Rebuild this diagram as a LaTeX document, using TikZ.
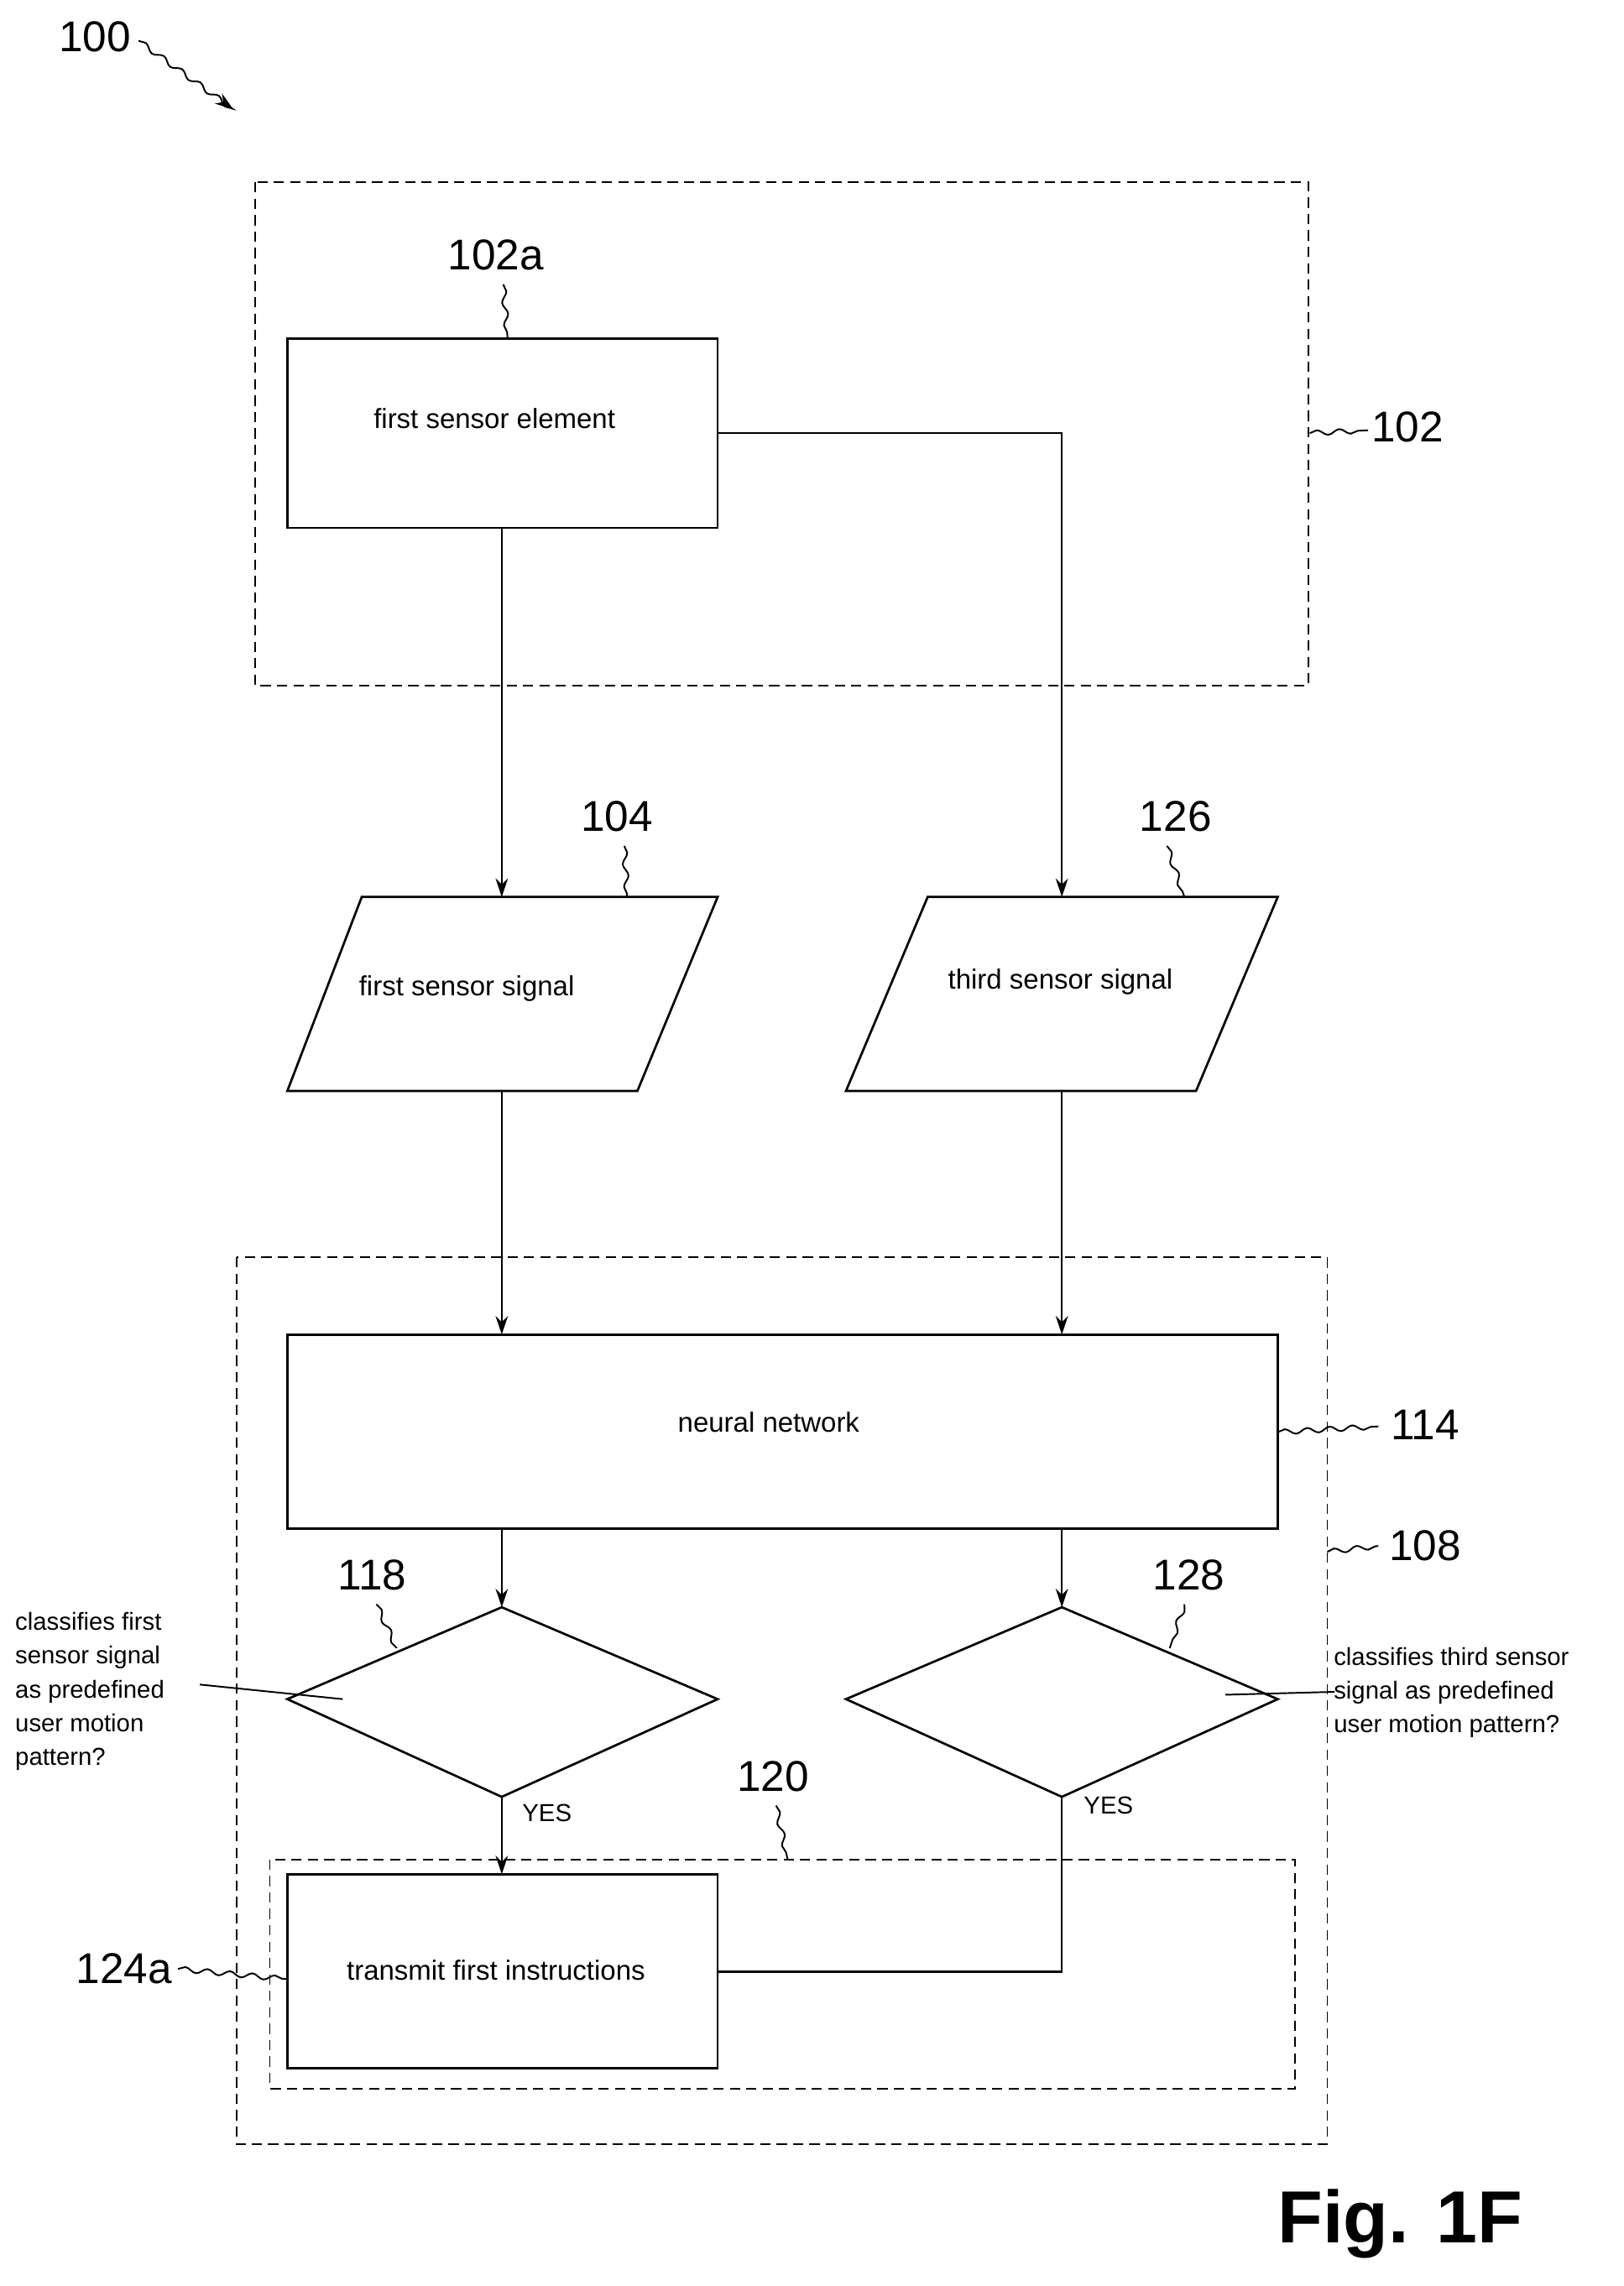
\documentclass[tikz,border=0pt]{standalone}
\usepackage{fontspec}
\setmainfont{Liberation Sans}
\usetikzlibrary{arrows.meta,decorations.pathmorphing}
\begin{document}
\begin{tikzpicture}[x=0.05cm,y=-0.05cm,
 box/.style={draw,line width=2.2pt},
 dbox/.style={draw,line width=1.6pt,dash pattern=on 10pt off 6pt},
 conn/.style={draw,line width=2pt},
 arr/.style={conn,-{Stealth[length=18pt,width=12pt]}},
 lbl/.style={font=\fontsize{42}{46}\selectfont},
 txt/.style={font=\fontsize{27}{32}\selectfont},
 sq/.style={draw,line width=1.6pt,decorate,decoration={snake,amplitude=2.5pt,segment length=22pt}}]
\useasboundingbox (0,0) rectangle (1113.4,1567.4);
% boxes
\draw[dbox] (175,125) rectangle (897,470);
\draw[dbox] (162,862) rectangle (910,1470);
\draw[dbox] (185,1275) rectangle (888,1432);
\draw[box] (197,232) rectangle (492,362);
\node[txt] (fse) at (339,287) {first sensor element};
\draw[box] (248,615) -- (492,615) -- (437,748) -- (197,748) -- cycle;
\node[txt] (fss) at (320,678) {first sensor signal};
\draw[box] (636,615) -- (876,615) -- (820,748) -- (580,748) -- cycle;
\node[txt] (tss) at (727,673) {third sensor signal};
\draw[box] (197,915) rectangle (876,1048);
\node[txt] (nn) at (527,975) {neural network};
\draw[box] (344,1102) -- (492,1165) -- (344,1232) -- (197,1165) -- cycle;
\draw[box] (728,1102) -- (876,1165) -- (728,1232) -- (580,1165) -- cycle;
\draw[box] (197,1285) rectangle (492,1418);
\node[txt] (tfi) at (340,1351) {transmit first instructions};
% coordinates
\coordinate (a1) at (344,362); \coordinate (a2) at (344,615);
\coordinate (b0) at (492,297); \coordinate (b1) at (728,297); \coordinate (b2) at (728,615);
\coordinate (c1) at (344,748); \coordinate (c2) at (344,915);
\coordinate (d1) at (728,748); \coordinate (d2) at (728,915);
\coordinate (e1) at (344,1048); \coordinate (e2) at (344,1102);
\coordinate (f1) at (728,1048); \coordinate (f2) at (728,1102);
\coordinate (g1) at (344,1232); \coordinate (g2) at (344,1285);
\coordinate (h1) at (728,1232); \coordinate (h2) at (728,1352); \coordinate (h3) at (492,1352);
\draw[arr] (a1) -- (a2);
\draw[arr] (b0) -- (b1) -- (b2);
\draw[arr] (c1) -- (c2);
\draw[arr] (d1) -- (d2);
\draw[arr] (e1) -- (e2);
\draw[arr] (f1) -- (f2);
\draw[arr] (g1) -- (g2);
\draw[conn] (h1) -- (h2) -- (h3);
\node[txt,font=\fontsize{24}{28}\selectfont] (y1) at (375,1243) {YES};
\node[txt,font=\fontsize{24}{28}\selectfont] (y2) at (760,1238) {YES};
% side texts
\node[txt,align=left,anchor=north west,font=\fontsize{24}{33}\selectfont] (lt) at (8,1103) {classifies first\\sensor signal\\as predefined\\user motion\\pattern?};
\node[txt,align=left,anchor=north west,font=\fontsize{24}{33}\selectfont] (rt) at (912,1127) {classifies third sensor\\signal as predefined\\user motion pattern?};
\coordinate (lt1) at (137,1155); \coordinate (lt2) at (235,1165);
\draw[line width=1.6pt] (lt1) -- (lt2);
\coordinate (rt1) at (840,1162); \coordinate (rt2) at (915,1160);
\draw[line width=1.6pt] (rt1) -- (rt2);
% labels
\node[lbl] (l102a) at (340,175) {102a};
\coordinate (s1) at (345,195); \coordinate (s2) at (348,232);
\draw[sq] (s1) -- (s2);
\node[lbl] (l102) at (965,293) {102};
\coordinate (s3) at (898,297); \coordinate (s4) at (938,295);
\draw[sq] (s3) -- (s4);
\node[lbl] (l104) at (423,560) {104};
\coordinate (s5) at (428,580); \coordinate (s6) at (430,615);
\draw[sq] (s5) -- (s6);
\node[lbl] (l126) at (806,560) {126};
\coordinate (s7) at (800,580); \coordinate (s8) at (812,615);
\draw[sq] (s7) -- (s8);
\node[lbl] (l114) at (977,977) {114};
\coordinate (s9) at (876,982); \coordinate (s10) at (945,978);
\draw[sq] (s9) -- (s10);
\node[lbl] (l108) at (977,1060) {108};
\coordinate (s11) at (910,1064); \coordinate (s12) at (945,1060);
\draw[sq] (s11) -- (s12);
\node[lbl] (l118) at (255,1080) {118};
\coordinate (s13) at (258,1100); \coordinate (s14) at (272,1130);
\draw[sq] (s13) -- (s14);
\node[lbl] (l128) at (815,1080) {128};
\coordinate (s15) at (812,1100); \coordinate (s16) at (802,1130);
\draw[sq] (s15) -- (s16);
\node[lbl] (l120) at (530,1218) {120};
\coordinate (s17) at (532,1238); \coordinate (s18) at (540,1275);
\draw[sq] (s17) -- (s18);
\node[lbl] (l124a) at (85,1350) {124a};
\coordinate (s19) at (122,1350); \coordinate (s20) at (197,1357);
\draw[sq] (s19) -- (s20);
\node[lbl] (l100) at (65,25) {100};
\coordinate (s21) at (95,28); \coordinate (s22) at (160,75);
\draw[sq,-{Stealth[length=18pt,width=12pt]}] (s21) -- (s22);
\node[font=\fontsize{72}{76}\selectfont\bfseries] (fig) at (960,1525) {Fig. 1F};
\end{tikzpicture}
\end{document}
